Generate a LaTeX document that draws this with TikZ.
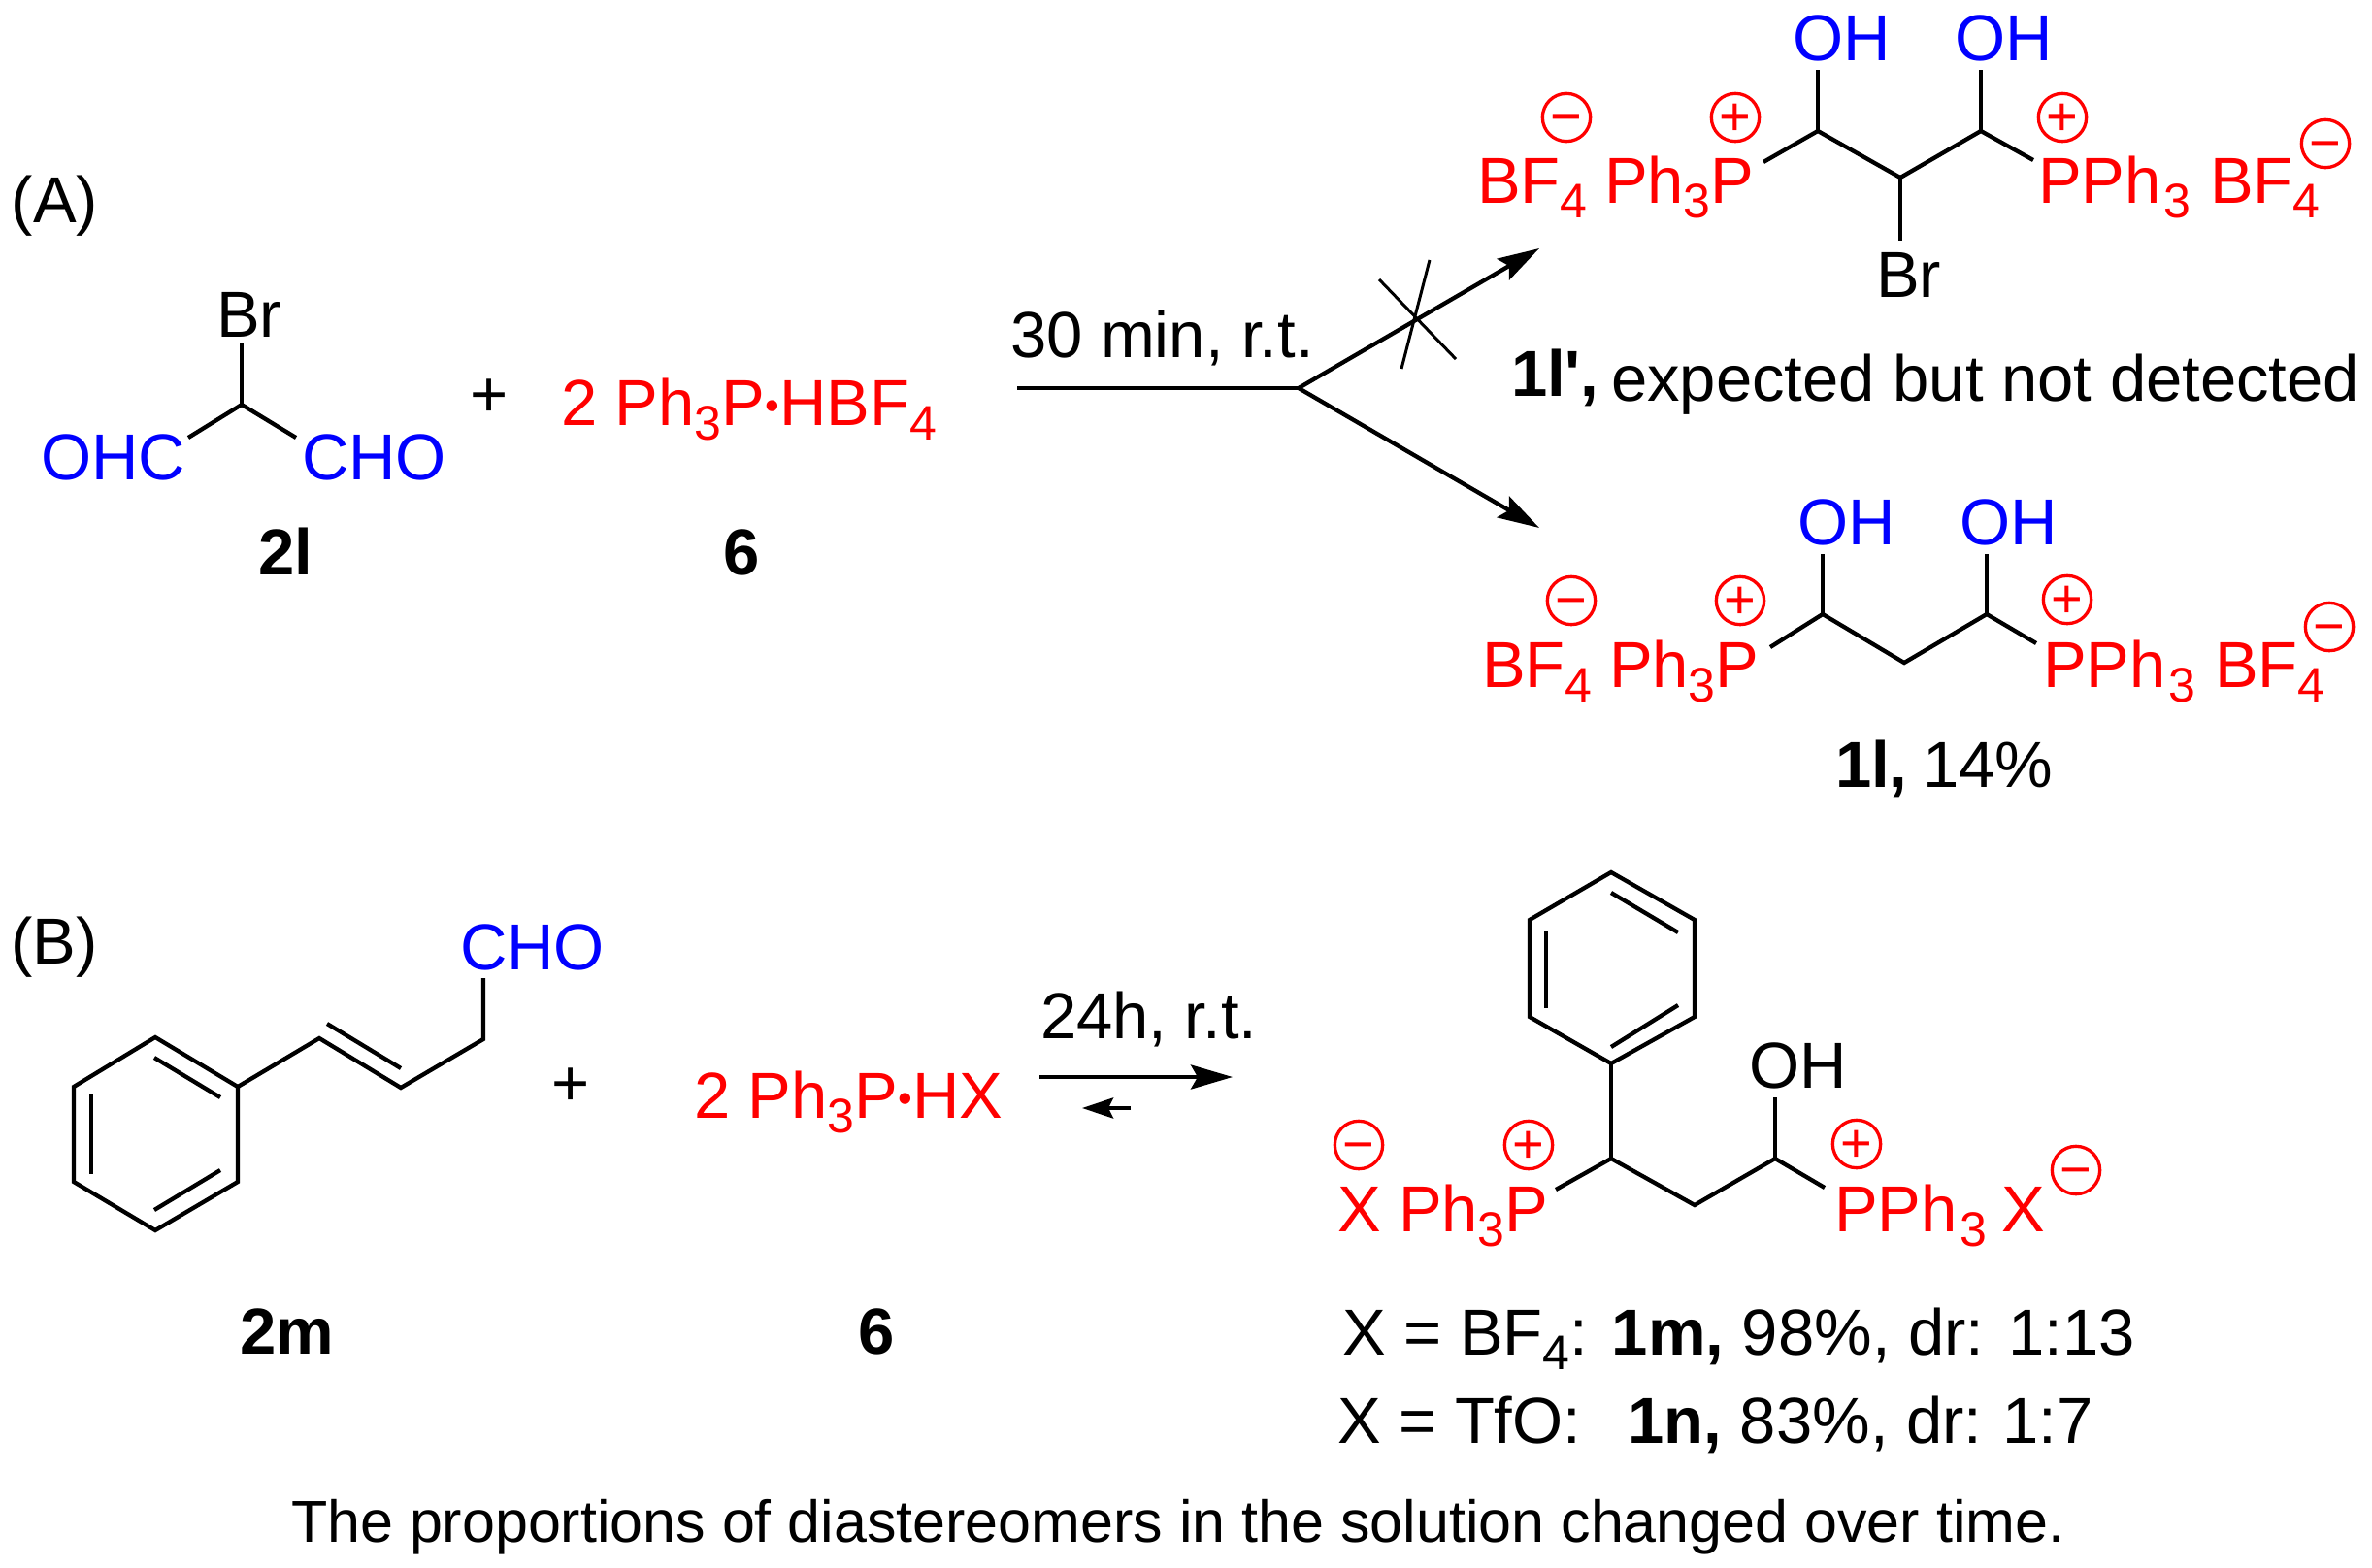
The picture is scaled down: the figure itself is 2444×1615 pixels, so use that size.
\documentclass[tikz,border=0pt]{standalone}
\usepackage{fontspec}
\setmainfont{Liberation Sans}
\newfontfamily\primefont{Liberation Sans}
\usetikzlibrary{arrows.meta}
\newcommand{\low}[1]{\raisebox{-15pt}{\fontsize{50}{50}\selectfont #1}}
\newcommand{\dotmark}{{\fontsize{42}{42}\selectfont\raisebox{5.5pt}{•}}}

\begin{document}
\begin{tikzpicture}[x=1pt,y=-1pt,>={Stealth[length=43pt,width=25pt,inset=7pt]},
  line join=miter,font=\fontsize{67}{80}\selectfont,
  bond/.style={draw,line width=4.3pt},
  thin bond/.style={draw,line width=3pt},
  rxn arrow/.style={draw,line width=4.3pt},
  text node/.style={anchor=base west,inner sep=0pt,outer sep=0pt},
  red node/.style={text node,text=red},
  blue node/.style={text node,text=blue},
  plus node/.style={inner sep=0pt,text height=44pt,text depth=0pt},
  charge node/.style={circle,draw=red,text=red,line width=3.3pt,minimum size=49pt,inner sep=0pt,
    font=\fontsize{56}{56}\selectfont,text height=37pt,text depth=0pt}]

  \useasboundingbox (0,0) rectangle (2444,1615);

  \node[text node] (labelA) at (12,229) {(A)};
  \node[text node] (labelB) at (11,993) {(B)};

  \node[text node] (br2l) at (223,347) {Br};
  \node[blue node] (ohc2l) at (42,494) {OHC};
  \node[blue node] (cho2l) at (311,494) {CHO};
  \node[text node] (name2l) at (266,592) {\textbf{2l}};
  \coordinate (a1) at (249,354);
  \coordinate (a2) at (249,417);
  \coordinate (a3) at (194,451);
  \coordinate (a4) at (305,451);
  \path[bond] (a1) -- (a2);
  \path[bond] (a3) -- (a2) -- (a4);

  \node[plus node] (plusA) at (504,407) {+};
  \node[red node] (salt6) at (578,438) {2 Ph\low{3}P\dotmark HBF\low{4}};
  \node[text node] (name6a) at (745,592) {\textbf{6}};

  \node[text node] (condA) at (1041,368) {30 min, r.t.};
  \coordinate (s1) at (1048,400);
  \coordinate (s2) at (1338,400);
  \coordinate (t1) at (1586,256);
  \coordinate (t2) at (1586,544);
  \coordinate (x1) at (1421,288);
  \coordinate (x2) at (1500,370);
  \coordinate (x3) at (1473,268);
  \coordinate (x4) at (1444,380);
  \path[rxn arrow] (s1) -- (s2);
  \path[rxn arrow,->] (s2) -- (t1);
  \path[rxn arrow,->] (s2) -- (t2);
  \path[thin bond] (x1) -- (x2);
  \path[thin bond] (x3) -- (x4);

  \node[blue node] (oh1) at (1847,62) {OH};
  \node[blue node] (oh2) at (2014,62) {OH};
  \node[red node] (bf1) at (1522,209) {BF\low{4}};
  \node[red node] (pl1) at (1653,209) {Ph\low{3}P};
  \node[red node] (pr1) at (2100,209) {PPh\kern3pt\low{3}};
  \node[red node] (bf2) at (2277,209) {BF\low{4}};
  \node[text node] (br1) at (1933,306) {Br};
  \node[charge node] (m1) at (1614,121) {−};
  \node[charge node] (p1) at (1788,121) {+};
  \node[charge node] (p2) at (2125,121) {+};
  \node[charge node] (m2) at (2396,148) {−};
  \coordinate (b1) at (1873,72);
  \coordinate (b2) at (1873,135);
  \coordinate (b3) at (2041,72);
  \coordinate (b4) at (2041,135);
  \coordinate (b5) at (1958,183);
  \coordinate (b6) at (1958,248);
  \coordinate (b7) at (1817,167);
  \coordinate (b8) at (2095,165);
  \path[bond] (b1) -- (b2);
  \path[bond] (b3) -- (b4);
  \path[bond] (b5) -- (b6);
  \path[bond] (b7) -- (b2) -- (b5) -- (b4) -- (b8);
  \node[text node] (name1a) at (1557,413) {\raisebox{5pt}{\textbf{1l{\primefont'},}}\hspace{-6pt} expected but not detected};

  \node[blue node] (oh3) at (1852,561) {OH};
  \node[blue node] (oh4) at (2019,561) {OH};
  \node[red node] (bf3) at (1527,708) {BF\low{4}};
  \node[red node] (pl2) at (1658,708) {Ph\low{3}P};
  \node[red node] (pr2) at (2105,708) {PPh\kern3pt\low{3}};
  \node[red node] (bf4) at (2282,708) {BF\low{4}};
  \node[charge node] (m3) at (1619,619) {−};
  \node[charge node] (p3) at (1793,619) {+};
  \node[charge node] (p4) at (2130,618) {+};
  \node[charge node] (m4) at (2400,646) {−};
  \coordinate (c1) at (1878,571);
  \coordinate (c2) at (1878,633);
  \coordinate (c3) at (2047,571);
  \coordinate (c4) at (2047,633);
  \coordinate (c5) at (1962,683);
  \coordinate (c6) at (1824,667);
  \coordinate (c7) at (2098,663);
  \path[bond] (c1) -- (c2);
  \path[bond] (c3) -- (c4);
  \path[bond] (c6) -- (c2) -- (c5) -- (c4) -- (c7);
  \node[text node] (name1b) at (1891,811) {\textbf{1l,}\hspace{-3pt} 14\%};

  \node[blue node] (cho2m) at (474,999) {CHO};
  \coordinate (d1) at (498,1008);
  \coordinate (d2) at (498,1071);
  \coordinate (d3) at (413,1121);
  \coordinate (d4) at (329,1070);
  \coordinate (d5) at (245,1120);
  \coordinate (d6) at (160,1069);
  \coordinate (d7) at (76,1120);
  \coordinate (d8) at (76,1218);
  \coordinate (d9) at (160,1268);
  \coordinate (d10) at (245,1218);
  \coordinate (e1) at (337,1055);
  \coordinate (e2) at (413,1101);
  \coordinate (e3) at (159,1090);
  \coordinate (e4) at (227,1131);
  \coordinate (e5) at (94,1128);
  \coordinate (e6) at (94,1210);
  \coordinate (e7) at (159,1247);
  \coordinate (e8) at (227,1206);
  \path[bond] (d1) -- (d2) -- (d3) -- (d4) -- (d5) -- (d6) -- (d7) -- (d8) -- (d9) -- (d10) -- (d5);
  \path[bond] (e1) -- (e2);
  \path[bond] (e3) -- (e4);
  \path[bond] (e5) -- (e6);
  \path[bond] (e7) -- (e8);

  \node[plus node] (plusB) at (588,1117) {+};
  \node[red node] (saltX) at (715,1152) {2 Ph\low{3}P\dotmark HX};
  \node[text node] (name2m) at (247,1395) {\textbf{2m}};
  \node[text node] (name6b) at (884,1395) {\textbf{6}};

  \node[text node] (condB) at (1072,1070) {24h, r.t.};
  \coordinate (f1) at (1071,1110);
  \coordinate (f2) at (1270,1110);
  \coordinate (f3) at (1165,1142);
  \coordinate (f4) at (1115,1142);
  \path[rxn arrow,->] (f1) -- (f2);
  \path[rxn arrow,-{Stealth[length=32pt,width=21pt,inset=5pt]}] (f3) -- (f4);

  \coordinate (g1) at (1660,899);
  \coordinate (g2) at (1746,948);
  \coordinate (g3) at (1746,1048);
  \coordinate (g4) at (1660,1096);
  \coordinate (g5) at (1576,1048);
  \coordinate (g6) at (1576,948);
  \coordinate (h1) at (1660,920);
  \coordinate (h2) at (1729,961);
  \coordinate (h3) at (1593,959);
  \coordinate (h4) at (1593,1039);
  \coordinate (h5) at (1660,1079);
  \coordinate (h6) at (1729,1036);
  \path[bond] (g1) -- (g2) -- (g3) -- (g4) -- (g5) -- (g6) -- cycle;
  \path[bond] (h1) -- (h2);
  \path[bond] (h3) -- (h4);
  \path[bond] (h5) -- (h6);
  \coordinate (k1) at (1660,1194);
  \coordinate (k2) at (1603,1226);
  \coordinate (k3) at (1746,1242);
  \coordinate (k4) at (1829,1194);
  \coordinate (k5) at (1880,1224);
  \coordinate (k6) at (1829,1131);
  \path[bond] (g4) -- (k1);
  \path[bond] (k2) -- (k1) -- (k3) -- (k4) -- (k5);
  \path[bond] (k6) -- (k4);

  \node[text node] (oh5) at (1802,1121) {OH};
  \node[red node] (x5) at (1378,1269) {X};
  \node[red node] (pl3) at (1441,1269) {Ph\low{3}P};
  \node[red node] (pr3) at (1890,1269) {PPh\kern3pt\low{3}};
  \node[red node] (x6) at (2062,1269) {X};
  \node[charge node] (m5) at (1400,1180) {−};
  \node[charge node] (p5) at (1575,1180) {+};
  \node[charge node] (p6) at (1913,1179) {+};
  \node[charge node] (m6) at (2139,1206) {−};

  \node[text node] (line1) at (1383,1396) {X = BF\low{4}: \textbf{1m,} 98\%, dr: 1:13};
  \node[text node] (line2) at (1378,1487) {X = TfO:\ \ \hspace{11pt}\textbf{1n,} 83\%, dr:\hspace{-4pt} 1:7};
  \node[text node,font=\fontsize{61}{70}\selectfont] (note) at (300,1589) {The proportions of diastereomers in the solution changed over time.};
\end{tikzpicture}
\end{document}
